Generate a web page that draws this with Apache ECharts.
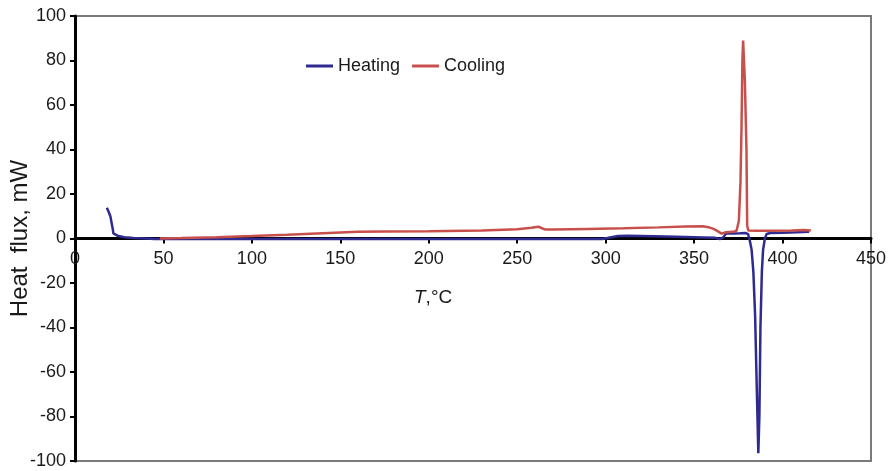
<!DOCTYPE html>
<html>
<head>
<meta charset="utf-8">
<script src="https://cdn.jsdelivr.net/npm/echarts@6/dist/echarts.min.js"></script>
<style>
  html, body { margin: 0; padding: 0; background: #fff; }
  #chart { width: 894px; height: 471px; }
</style>
</head>
<body>
<div id="chart"></div>
<script>
// DSC trace: heat flux (mW) against temperature (°C)
const heatingT = [18, 19, 20, 20.7, 21.3, 21.7, 22.5, 24.5, 28, 33, 40, 45, 50, 100, 150, 200, 250, 298, 301, 304, 307, 312, 320, 340, 355, 362, 364.5, 365.5, 366.5, 368, 372, 376, 379, 380.5, 381.5, 382.5, 383.5, 384.5, 385.5, 386.3, 386.9, 387.5, 388.3, 389, 390, 391, 393, 400, 408, 415];
const heatingQ = [13.8, 12, 10, 7, 4.5, 2.3, 1.6, 1.1, 0.6, 0.2, 0, -0.2, -0.2, -0.2, -0.2, -0.2, -0.2, -0.2, 0.2, 0.7, 1.1, 1.2, 1.1, 0.8, 0.5, 0.3, -0.3, -1, 0.5, 2.2, 2.3, 2.4, 2.5, 2, -1, -5, -15, -35, -70, -96.5, -80, -40, -15, -5, 0, 2, 2.5, 2.6, 2.8, 3];

const coolingT = [48, 60, 80, 100, 120, 140, 160, 175, 200, 230, 250, 258, 262, 264, 266, 270, 290, 310, 330, 345, 355, 358, 361, 363.5, 365.5, 366.5, 368, 372, 374, 375.3, 376.2, 376.8, 377.3, 377.7, 378.2, 378.7, 379.2, 379.6, 380, 380.6, 385, 395, 405, 412, 416];
const coolingQ = [0, 0.2, 0.6, 1.1, 1.7, 2.4, 3, 3.2, 3.3, 3.6, 4.2, 4.8, 5.3, 4.6, 4, 4, 4.3, 4.6, 5, 5.4, 5.5, 5.1, 4.3, 3.2, 2.2, 2.4, 2.8, 3, 3.5, 8, 25, 50, 80, 89, 88.5, 70.5, 70, 40, 6, 3.6, 3.5, 3.5, 3.6, 3.8, 3.6];

const xMin = 0, xMax = 450, xStep = 50;
const yMin = -100, yMax = 100, yStep = 20;

const pairs = (xs, ys) => xs.map((x, i) => [x, ys[i]]);

const FONT = '"Liberation Sans", Arial, sans-serif';
const INK = '#1a1a1a';

// plot box (px)
const GRID = { left: 75, right: 23, top: 16, bottom: 10 };
const CHART_H = 471;
const plotH = CHART_H - GRID.top - GRID.bottom;
// distance from the bottom edge of the plot up to the y = 0 line
const zeroLift = plotH * (0 - yMin) / (yMax - yMin);

const chart = echarts.init(document.getElementById('chart'), null, { renderer: 'canvas' });
chart.setOption({
  animation: false,
  backgroundColor: '#ffffff',
  textStyle: { fontFamily: FONT },
  grid: Object.assign({}, GRID, {
    containLabel: false, outerBoundsMode: 'none',
    show: true, borderColor: '#7a7a7a', borderWidth: 2, backgroundColor: 'transparent'
  }),
  title: {
    text: '{i|T},°C',
    left: 409, top: 283,
    textStyle: {
      fontFamily: FONT, fontSize: 19, fontWeight: 'normal', color: INK,
      rich: { i: { fontFamily: FONT, fontSize: 19, fontStyle: 'italic', color: INK } }
    }
  },
  legend: {
    left: 301, top: 52,
    icon: 'rect', itemWidth: 27, itemHeight: 3, itemGap: 12,
    textStyle: { fontFamily: FONT, fontSize: 18, color: INK },
    data: ['Heating', 'Cooling']
  },
  xAxis: [
    {
      // axis line and ticks on the y = 0 line
      type: 'value', min: xMin, max: xMax, interval: xStep,
      axisLine: { onZero: true, lineStyle: { color: '#000', width: 3 } },
      axisTick: { show: true, inside: false, length: 5, lineStyle: { color: '#000', width: 2 } },
      axisLabel: { show: false },
      splitLine: { show: false }
    },
    {
      // tick labels just under the y = 0 line
      type: 'value', min: xMin, max: xMax, interval: xStep,
      position: 'bottom', offset: -zeroLift,
      axisLine: { show: false, onZero: false },
      axisTick: { show: false },
      axisLabel: { margin: 12, fontSize: 18, color: INK, fontFamily: FONT },
      splitLine: { show: false }
    }
  ],
  yAxis: {
    type: 'value', min: yMin, max: yMax, interval: yStep,
    name: 'Heat  flux, mW', nameLocation: 'middle', nameGap: 43,
    nameMoveOverlap: false,
    nameTextStyle: { fontSize: 24, color: INK, fontFamily: FONT },
    axisLine: { show: true, lineStyle: { color: '#000', width: 3 } },
    axisTick: { show: true, inside: false, length: 5, lineStyle: { color: '#000', width: 2 } },
    axisLabel: { margin: 9, fontSize: 18, color: INK, fontFamily: FONT },
    splitLine: { show: false }
  },
  series: [
    {
      name: 'Heating', type: 'line', showSymbol: false, symbol: 'none',
      xAxisIndex: 0,
      data: pairs(heatingT, heatingQ),
      lineStyle: { color: '#2f2a8f', width: 2.5 },
      itemStyle: { color: '#2f2a8f' },
      z: 3
    },
    {
      name: 'Cooling', type: 'line', showSymbol: false, symbol: 'none',
      xAxisIndex: 0,
      data: pairs(coolingT, coolingQ),
      lineStyle: { color: '#c8504c', width: 2.5 },
      itemStyle: { color: '#c8504c' },
      z: 4
    }
  ]
});
</script>
</body>
</html>
